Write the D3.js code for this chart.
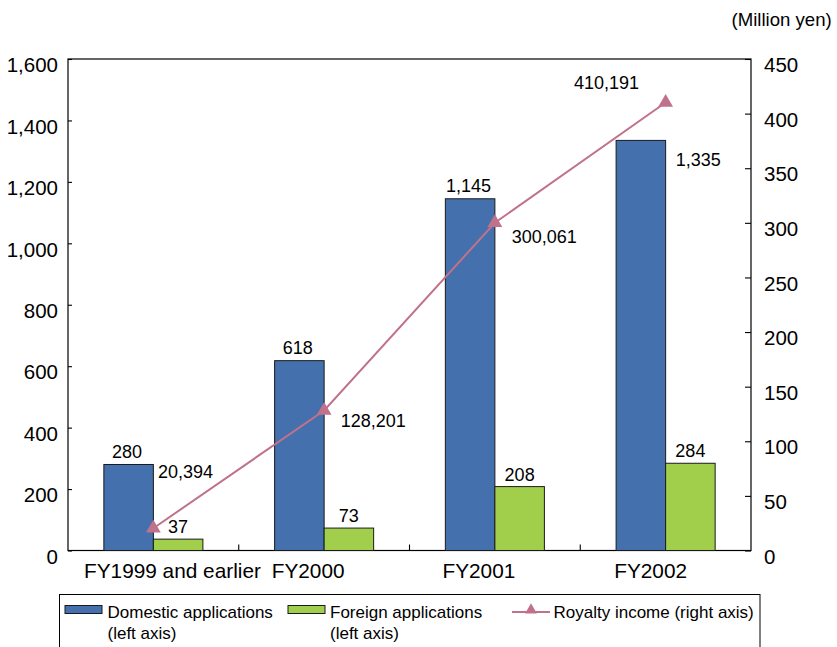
<!DOCTYPE html>
<html>
<head>
<meta charset="utf-8">
<script src="https://cdn.jsdelivr.net/npm/d3@7"></script>
<style>
  body { margin: 0; background: #fff; }
  svg { display: block; font-family: "Liberation Sans", Arial, sans-serif; }
</style>
</head>
<body>
<svg id="chart" width="837" height="647"></svg>
<script>
// ---- data ----
const categories = ["FY1999 and earlier", "FY2000", "FY2001", "FY2002"];
const domestic = [280, 618, 1145, 1335];
const foreign = [37, 73, 208, 284];
const royalty = [20394, 128201, 300061, 410191]; // thousand yen
const leftTicks = [0, 200, 400, 600, 800, 1000, 1200, 1400, 1600];
const rightTicks = [0, 50, 100, 150, 200, 250, 300, 350, 400, 450];
const seriesNames = ["Domestic applications", "Foreign applications", "Royalty income (right axis)"];

// ---- layout ----
const W = 837, H = 647;
const plot = { left: 68, right: 751, top: 59, bottom: 550.5 };
const colors = { domestic: "#4470AD", foreign: "#A2CF4B", royalty: "#C0728B", stroke: "#1a1a1a" };
const fmt = d3.format(",");

const svg = d3.select("#chart");

const x = d3.scaleBand().domain(categories).range([plot.left, plot.right]).padding(0);
const yL = d3.scaleLinear().domain([0, 1600]).range([plot.bottom, plot.top]);
const yR = d3.scaleLinear().domain([0, 450]).range([plot.bottom, plot.top]);
const barW = x.bandwidth() * 0.29;
const cx = c => x(c) + x.bandwidth() / 2;

// plot frame
svg.append("rect")
  .attr("x", plot.left).attr("y", plot.top)
  .attr("width", plot.right - plot.left).attr("height", plot.bottom - plot.top)
  .attr("fill", "none").attr("stroke", "#000").attr("stroke-width", 1.2);

// left axis
const gL = svg.append("g").attr("transform", `translate(${plot.left},0)`)
  .call(d3.axisLeft(yL).tickValues(leftTicks).tickFormat(fmt).tickSizeInner(-4).tickSizeOuter(0).tickPadding(10));
gL.select(".domain").remove();
gL.selectAll("line").attr("stroke", "#000").attr("stroke-width", 1.1);
gL.selectAll("text").attr("font-size", 20.5).attr("fill", "#000").attr("dy", "0.62em")
  .attr("font-family", "Liberation Sans, Arial, sans-serif");

// right axis
const gR = svg.append("g").attr("transform", `translate(${plot.right},0)`)
  .call(d3.axisRight(yR).tickValues(rightTicks).tickFormat(fmt).tickSizeInner(-6).tickSizeOuter(0).tickPadding(13));
gR.select(".domain").remove();
gR.selectAll("line").attr("stroke", "#000").attr("stroke-width", 1.1);
gR.selectAll("text").attr("font-size", 20.5).attr("fill", "#000").attr("dy", "0.62em")
  .attr("font-family", "Liberation Sans, Arial, sans-serif");

// x separator ticks
svg.append("g").selectAll("line")
  .data(categories.slice(1))
  .join("line")
  .attr("x1", d => x(d)).attr("x2", d => x(d))
  .attr("y1", plot.bottom).attr("y2", plot.bottom - 6)
  .attr("stroke", "#000").attr("stroke-width", 1.1);

// x category labels (custom positions like the original)
const catLabelPos = [
  { anchor: "start", dx: c => x(c) + 16 },
  { anchor: "middle", dx: c => cx(c) - 16 },
  { anchor: "middle", dx: c => cx(c) - 16 },
  { anchor: "middle", dx: c => cx(c) - 15 }
];
svg.append("g").selectAll("text")
  .data(categories)
  .join("text")
  .attr("x", (d, i) => catLabelPos[i].dx(d))
  .attr("y", 578)
  .attr("text-anchor", (d, i) => catLabelPos[i].anchor)
  .attr("font-size", 20.8)
  .text(d => d);

// bars
svg.append("g").selectAll("rect")
  .data(categories)
  .join("rect")
  .attr("x", d => cx(d) - barW)
  .attr("y", (d, i) => yL(domestic[i]))
  .attr("width", barW)
  .attr("height", (d, i) => yL(0) - yL(domestic[i]))
  .attr("fill", colors.domestic).attr("stroke", colors.stroke).attr("stroke-width", 1);

svg.append("g").selectAll("rect")
  .data(categories)
  .join("rect")
  .attr("x", d => cx(d))
  .attr("y", (d, i) => yL(foreign[i]))
  .attr("width", barW)
  .attr("height", (d, i) => yL(0) - yL(foreign[i]))
  .attr("fill", colors.foreign).attr("stroke", colors.stroke).attr("stroke-width", 1);

// bar labels
svg.append("g").selectAll("text")
  .data(categories)
  .join("text")
  .attr("x", (d, i) => i === 3 ? cx(d) + 10 : cx(d) - barW / 2 - 1.5)
  .attr("y", (d, i) => i === 3 ? yL(domestic[i]) + 26 : yL(domestic[i]) - 6.3)
  .attr("text-anchor", (d, i) => i === 3 ? "start" : "middle")
  .attr("font-size", 18)
  .text((d, i) => fmt(domestic[i]));

svg.append("g").selectAll("text")
  .data(categories)
  .join("text")
  .attr("x", d => cx(d) + barW / 2 + 0)
  .attr("y", (d, i) => yL(foreign[i]) - 6)
  .attr("text-anchor", "middle")
  .attr("font-size", 18)
  .text((d, i) => fmt(foreign[i]));

// royalty line
const line = d3.line()
  .x(d => cx(d.c))
  .y(d => yR(d.v / 1000));
const lineData = categories.map((c, i) => ({ c, v: royalty[i] }));
svg.append("path")
  .datum(lineData)
  .attr("d", line)
  .attr("fill", "none")
  .attr("stroke", colors.royalty)
  .attr("stroke-width", 2);

svg.append("g").selectAll("path")
  .data(lineData)
  .join("path")
  .attr("transform", d => `translate(${cx(d.c)},${yR(d.v / 1000)})`)
  .attr("d", d3.symbol(d3.symbolTriangle, 95))
  .attr("fill", colors.royalty);

// royalty labels
const royLabelPos = [
  { dx: 4.5, dy: -50, anchor: "start" },
  { dx: 16.5, dy: 16.5, anchor: "start" },
  { dx: 16.8, dy: 20, anchor: "start" },
  { dx: -26.5, dy: -13, anchor: "end" }
];
svg.append("g").selectAll("text")
  .data(lineData)
  .join("text")
  .attr("x", (d, i) => cx(d.c) + royLabelPos[i].dx)
  .attr("y", (d, i) => yR(d.v / 1000) + royLabelPos[i].dy)
  .attr("text-anchor", (d, i) => royLabelPos[i].anchor)
  .attr("font-size", 18)
  .text(d => fmt(d.v));

// unit label
svg.append("text")
  .attr("x", 731.5).attr("y", 26)
  .attr("font-size", 18.6)
  .text("(Million yen)");

// legend
const lg = svg.append("g");
lg.append("rect")
  .attr("x", 59.5).attr("y", 594.5).attr("width", 700.5).attr("height", 70)
  .attr("fill", "#fff").attr("stroke", "#000").attr("stroke-width", 1);

lg.append("rect").attr("x", 65).attr("y", 605.5).attr("width", 37).attr("height", 8)
  .attr("fill", colors.domestic).attr("stroke", colors.stroke).attr("stroke-width", 1);
lg.append("text").attr("x", 107.5).attr("y", 618.3).attr("font-size", 17).text(seriesNames[0]);
lg.append("text").attr("x", 107.5).attr("y", 638.5).attr("font-size", 17).text("(left axis)");

lg.append("rect").attr("x", 288).attr("y", 605.5).attr("width", 37).attr("height", 8)
  .attr("fill", colors.foreign).attr("stroke", colors.stroke).attr("stroke-width", 1);
lg.append("text").attr("x", 330).attr("y", 618.3).attr("font-size", 17).text(seriesNames[1]);
lg.append("text").attr("x", 330).attr("y", 638.5).attr("font-size", 17).text("(left axis)");

lg.append("line").attr("x1", 512).attr("x2", 550).attr("y1", 612).attr("y2", 612)
  .attr("stroke", colors.royalty).attr("stroke-width", 2);
lg.append("path").attr("transform", "translate(531,610)")
  .attr("d", d3.symbol(d3.symbolTriangle, 60)).attr("fill", colors.royalty);
lg.append("text").attr("x", 553.5).attr("y", 618.3).attr("font-size", 17).text(seriesNames[2]);
</script>
</body>
</html>
